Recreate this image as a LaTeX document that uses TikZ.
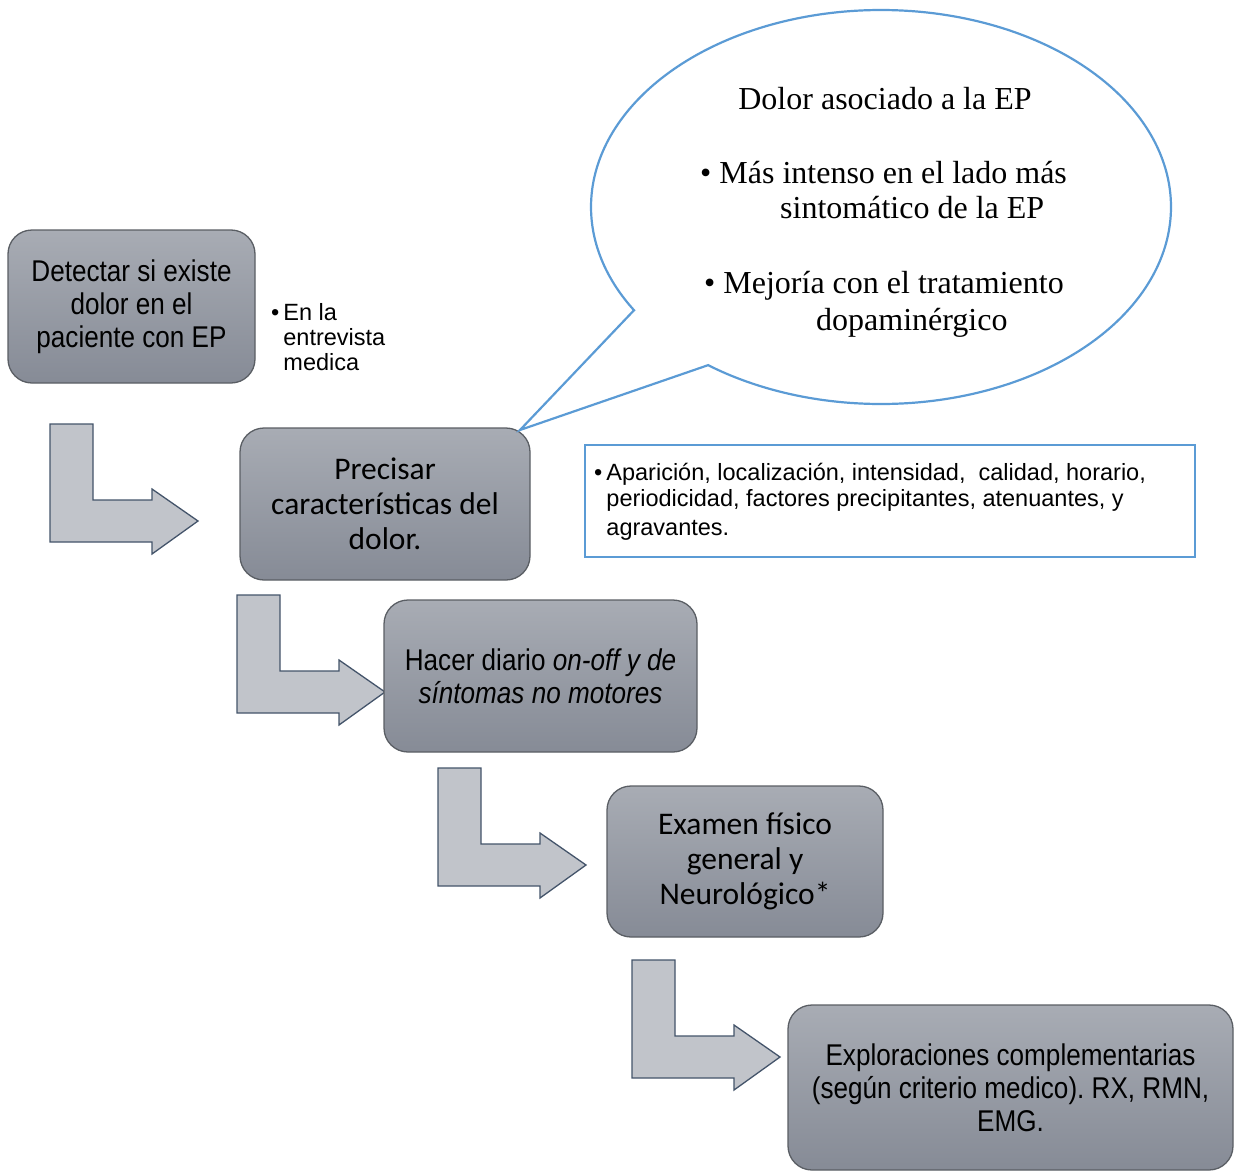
\documentclass[tikz,border=0pt]{standalone}
\usepackage{fontspec}
\setmainfont{Liberation Serif}
\newfontfamily\arialf{Liberation Sans}
\newfontfamily\narrowf[FakeStretch=0.87]{Liberation Sans}
\newfontfamily\calf{Carlito}
\frenchspacing
\definecolor{boxtop}{RGB}{168,172,180}
\definecolor{boxbot}{RGB}{134,139,150}
\definecolor{boxline}{RGB}{90,94,100}
\definecolor{arrfill}{RGB}{193,196,202}
\definecolor{arrline}{RGB}{68,84,106}
\definecolor{bluel}{RGB}{91,155,213}
\tikzset{
  stepbox/.style={rectangle, rounded corners=24pt, draw=boxline, line width=1.3pt,
    top color=boxtop, bottom color=boxbot, align=center, inner sep=0pt, text=black},
  narrowtxt/.style={font=\narrowf\fontsize{30}{33}\selectfont},
  caltxt/.style={font=\calf\fontsize{31.5}{35}\selectfont},
  seriftxt/.style={font=\rmfamily\fontsize{32}{36}\selectfont, inner sep=0pt},
  smalltxt/.style={font=\arialf\fontsize{23.5}{25}\selectfont, inner sep=0pt},
  chartxt/.style={font=\arialf\fontsize{23.5}{26}\selectfont, inner sep=0pt},
  bent/.pic={\draw[fill=arrfill, draw=arrline, line width=1.3pt]
    (0,0) -- (43,0) -- (43,76) -- (102,76) -- (102,65) -- (148,97)
    -- (102,130) -- (102,118) -- (0,118) -- cycle;}
}
\begin{document}
\begin{tikzpicture}[x=1pt,y=-1pt]
\useasboundingbox (0,0) rectangle (1236,1172);

% bent block arrows
\pic at (50,424) {bent};
\pic at (237,595) {bent};
\pic at (438,768) {bent};
\pic at (632,960) {bent};

% step boxes
\node[stepbox, narrowtxt, minimum width=247pt, minimum height=153pt] (detect) at (131.5,306.5)
  {Detectar si existe\\dolor en el\\paciente con EP};
\node[stepbox, caltxt, minimum width=290pt, minimum height=152pt] (precisar) at (385,504)
  {Precisar\\características del\\dolor.};
\node[stepbox, narrowtxt, minimum width=313pt, minimum height=152pt] (diario) at (540.5,676)
  {Hacer diario \textit{on-off y de}\\\textit{síntomas no motores}};
\node[stepbox, caltxt, minimum width=276pt, minimum height=151pt] (examen) at (745,861.5)
  {Examen físico\\general y\\Neurológico*};
\node[stepbox, narrowtxt, minimum width=445pt, minimum height=165pt] (explor) at (1010.5,1087.5)
  {Exploraciones complementarias\\(según criterio medico). RX, RMN,\\EMG.};

% side note
\node[smalltxt, anchor=base west] (entrevista) at (271,320)
  {\begin{tabular}[t]{@{}l@{\hspace{4pt}}l@{}}\textbullet & En la\\ & entrevista\\ & medica\end{tabular}};

% characteristics box
\node[draw=bluel, line width=2.5pt, minimum width=610pt, minimum height=112pt, inner sep=0pt] (charbox) at (890,501) {};
\node[chartxt, anchor=base west] (chartext) at (594,480)
  {\begin{tabular}[t]{@{}l@{\hspace{4pt}}l@{}}\textbullet & Aparición, localización, intensidad,\ \ calidad, horario,\\
   & periodicidad, factores precipitantes, atenuantes, y\\[3pt]
   & agravantes.\end{tabular}};

% speech bubble
\coordinate (tail) at (520,430);
\draw[bluel, line width=2.2pt, line join=miter]
  plot[domain=148.4:486.6, samples=181, smooth] ({881+290*cos(\x)},{207+197*sin(\x)})
  -- (tail) -- cycle;
\node[seriftxt, anchor=base] (bt0) at (885,109) {Dolor asociado a la EP};
\node[seriftxt, anchor=base west] (bt1) at (700,183) {\textbullet\ Más intenso en el lado más};
\node[seriftxt, anchor=base west] (bt2) at (780,218) {sintomático de la EP};
\node[seriftxt, anchor=base west] (bt3) at (704,293) {\textbullet\ Mejoría con el tratamiento};
\node[seriftxt, anchor=base west] (bt4) at (816,330) {dopaminérgico};
\end{tikzpicture}
\end{document}
